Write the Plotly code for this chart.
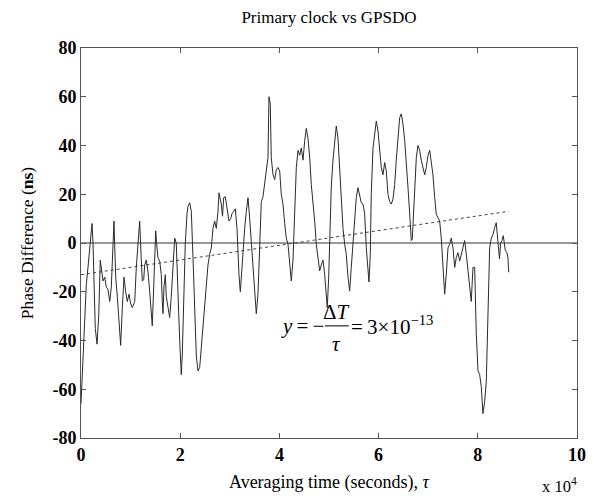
import plotly.graph_objects as go

# phase difference trace, time in seconds, phase in ns
t_sec = [0, 200, 600, 870, 1070, 1410, 1750, 2080, 2220, 2420, 2620, 2880, 3230, 3570,
         3890, 4090, 4440, 4780, 5100, 5440, 5790, 6110, 6450, 6650, 6790, 7000, 7320,
         7660, 8000, 8330, 8670, 9010, 9330, 9680, 10020, 10340, 10830, 11150, 11490,
         11830, 12160, 12360, 12640, 12840, 13160, 13510, 13850, 14170, 14370, 14660,
         14860, 15060, 15320, 15520, 15870, 16190, 16390, 16530, 16730, 17000, 17200,
         17540, 17880, 18200, 18550, 18890, 19210, 19410, 19700, 19960, 20220, 20420,
         20760, 21030, 21370, 21570, 21910, 22240, 22580, 22920, 23240, 23590, 23930,
         24250, 24600, 24940, 25260, 25600, 25950, 26270, 26610, 26950, 27280, 27620,
         27820, 28280, 28530, 28770, 29090, 29430, 29840, 30180, 30440, 30780, 31110,
         31450, 31650, 31850, 32120, 32320, 32660, 33000, 33330, 33670, 34010, 34330,
         34680, 35020, 35340, 35680, 36030, 36350, 36690, 37030, 37360, 37700, 37900,
         38160, 38360, 38710, 39050, 39370, 39720, 40060, 40380, 40720, 41070, 41390,
         41730, 42070, 42400, 42740, 43080, 43410, 43750, 44090, 44410, 44760, 45100,
         45420, 45760, 46110, 46430, 46770, 47110, 47440, 47780, 48120, 48440, 48790,
         49130, 49450, 49650, 49940, 50140, 50460, 50800, 51150, 51470, 51810, 52150,
         52480, 52820, 53160, 53480, 53830, 54170, 54490, 54840, 55180, 55500, 55840,
         56190, 56510, 56850, 57190, 57520, 57860, 58060, 58320, 58520, 58870, 59210,
         59530, 59880, 60220, 60540, 60880, 61230, 61550, 61890, 62230, 62560, 62900,
         63240, 63560, 63910, 64250, 64570, 64920, 65260, 65580, 65920, 66270, 66590,
         66790, 67070, 67270, 67600, 67940, 68280, 68600, 68950, 69290, 69610, 69960,
         70300, 70960, 71310, 71630, 71970, 72310, 72640, 72980, 73320, 73640, 73990,
         74330, 74650, 75000, 75340, 75660, 76000, 76350, 76670, 77010, 77350, 77680,
         78020, 78360, 78680, 79030, 79370, 79690, 80040, 80380, 80700, 81040, 81390,
         81710, 82050, 82390, 82720, 83060, 83400, 83720, 83930, 84370, 84610, 84870,
         85140, 85280, 85540, 85880, 86080, 86230]
phase_ns = [-66, -56, -37, -26, -17, -10, -3, 6, 8, 0, -18, -35, -41.5, -30,
            -7, -10, -15.6, -14, -18, -19, -24, -18, 1, 9, -0.5, -14, -22,
            -33, -42, -26.5, -14, -20, -24, -21, -25, -26.5, -24, -10, 1,
            9, -7, -15.6, -15, -9, -7, -12, -20, -29, -34, -18,
            0, 5, -2, -6, -7.5, -13, -24, -29, -18, -13, -22,
            -26.5, -30.6, -22, -10, 2, 0, -15.6, -29, -43, -54, -46,
            -18, 0, 12, 15, 16.5, 13, -6, -26.5, -46, -52.5, -51,
            -43, -35, -26.5, -18, -9, -4.6, -2, 6, 9, 6, 13,
            20.6, 16, 11, 18.6, 19, 14.5, 9, 10, 12, 13, 14,
            6, -7, -13, -20, -13, -2, 6, 13, 18.6, 10, -0.5,
            -10, -21, -29, -21, -2, 17, 19, 24, 28, 35, 60,
            57, 35, 28, 26, 30, 31, 29.5, 20, 16, 8, 2,
            -0.5, -10, -15.6, -7, 13, 31, 38, 36, 39, 34, 42,
            47, 43, 35, 24, 17, 9, -0.5, -7, -11.5, -9, -7,
            -13, -21, -26.5, -14, 6, 23, 34, 42, 48, 43, 31,
            17, 6, -0.5, -4.6, -14, -19.7, -10, 1, 10, 18.6, 22.7,
            20, 16.5, 16, 12, -2, -14, -16, -5, 20, 39, 46,
            50, 46, 36, 31, 28, 33, 29.5, 20, 17, 16, 18,
            24, 34, 45, 51.4, 53, 48.7, 42, 34, 23, 12, 1,
            1.5, 12, 20, 35, 40, 38, 34, 31, 28, 31, 36,
            38, 28, 18.6, 11.8, 10.4, 9, 2, -10, -21, -13, -2,
            -0.5, 2, -2, -10, -6, -4, -7.4, -4.6, -2, 1, -4.6,
            -11.5, -18, -24, -10, -10, -37, -52.5, -54, -59, -70, -65,
            -57, -32, -2, 2, 3.5, 6.3, 8.3, 3.5, -6.5, 0, 1,
            3, 0, -3, -4, -6, -12]

# linear drift fit (dotted line)
fit_t = [0, 86230]
fit_ns = [-13, 13]

x_ticks = [0, 20000, 40000, 60000, 80000, 100000]
x_labels = ['0', '2', '4', '6', '8', '10']
y_ticks = [-80, -60, -40, -20, 0, 20, 40, 60, 80]
y_labels = ['-80', '-60', '-40', '-20', '0', '20', '40', '60', '80']

serif = 'Liberation Serif'

fig = go.Figure()

fig.add_trace(go.Scatter(x=[0, 100000], y=[0, 0], mode='lines',
                         line=dict(color='#333333', width=1), hoverinfo='skip'))
fig.add_trace(go.Scatter(x=fit_t, y=fit_ns, mode='lines',
                         line=dict(color='#444444', width=1, dash='dot')))
fig.add_trace(go.Scatter(x=t_sec, y=phase_ns, mode='lines',
                         line=dict(color='#2a2a2a', width=1)))

axis_style = dict(showline=True, linecolor='#555555', linewidth=1, mirror='allticks',
                  ticks='inside', ticklen=5, tickcolor='#555555', showgrid=False,
                  zeroline=False,
                  tickfont=dict(family=serif, size=18, color='black', weight='bold'))

# the page is drawn 8px in from the window corner (body margin)
fig.update_layout(
    width=594, height=496,
    margin=dict(l=73, r=25, t=40, b=66),
    plot_bgcolor='white', paper_bgcolor='white',
    showlegend=False,
    title=dict(text='Primary clock vs GPSDO', x=0.5, xref='paper', xanchor='center',
               y=0.981, yanchor='middle', font=dict(family=serif, size=17, color='black')),
    xaxis=dict(range=[0, 100000], tickvals=x_ticks, ticktext=x_labels,
               title=dict(text='Averaging time (seconds), <i>τ</i>', standoff=11,
                          font=dict(family=serif, size=18, color='black')),
               **axis_style),
    yaxis=dict(range=[-80, 80], tickvals=y_ticks, ticktext=y_labels,
               title=dict(text='Phase Difference (<b>ns</b>)', standoff=14,
                          font=dict(family=serif, size=17.5, color='black')),
               **axis_style),
)

eq_font = dict(family=serif, size=21, color='black')
fig.add_annotation(x=0.925, y=-0.122, xref='paper', yref='paper', text='x 10<sup>4</sup>',
                   showarrow=False, xanchor='left', yanchor='middle',
                   font=dict(family=serif, size=16.5, color='black'))
fig.add_annotation(x=49400, y=-34, text='<i>y</i>\u2009=\u2009−', showarrow=False,
                   xanchor='right', yanchor='middle', font=eq_font)
fig.add_annotation(x=51600, y=-28.5, text='Δ<i>T</i>', showarrow=False,
                   xanchor='center', yanchor='middle', font=eq_font)
fig.add_annotation(x=51600, y=-41.5, text='<i>τ</i>', showarrow=False,
                   xanchor='center', yanchor='middle', font=eq_font)
fig.add_annotation(x=54100, y=-34, text='=\u20093×10<sup>−13</sup>', showarrow=False,
                   xanchor='left', yanchor='middle', font=eq_font)
fig.add_shape(type='line', x0=49200, x1=54000, y0=-34, y1=-34,
              line=dict(color='black', width=1))

fig.write_html("out.html")
